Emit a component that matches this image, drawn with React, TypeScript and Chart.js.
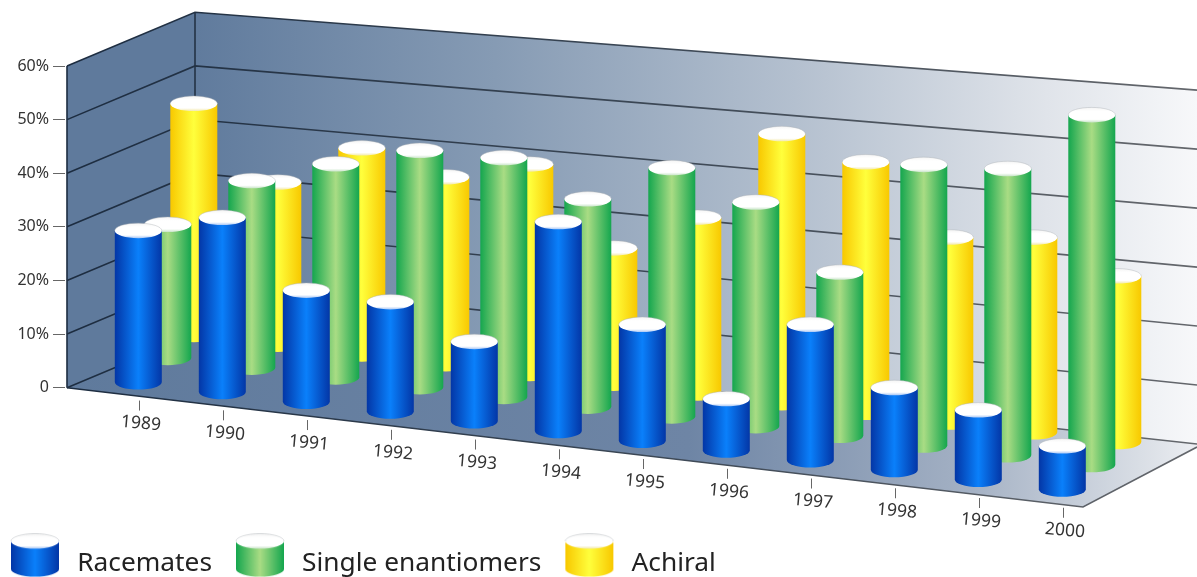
import React, { useEffect, useRef } from "react";
import { Chart, registerables } from "chart.js";

Chart.register(...registerables);

const years = ["1989","1990","1991","1992","1993","1994","1995","1996","1997","1998","1999","2000"];
const racemates = [28.5,32.5,20.6,20.1,14.5,37.7,20.8,9.2,23.9,14.4,12.1,7.5];
const singleEnantiomers = [25.0,34.7,39.3,43.2,43.3,37.3,44.3,39.6,28.7,48.9,49.5,60];
const achiral = [43.2,30.1,37.9,34.1,37.9,24.3,31.3,47.5,43.9,32.2,33.6,28.4];

const FONT = '"Noto Sans", sans-serif';
const BAR_W = 47;
const CAP_RY = 7.5;
const rows = [
  { dx: 29.3, dy: -10, edge: "#0336a6", mid: "#0a80fb", tint: "#a8c6f4" },
  { dx: 58.8, dy: -34.4, edge: "#14a64e", mid: "#a9dc84", tint: "#c8e4c8" },
  { dx: 84.8, dy: -57.4, edge: "#f8c800", mid: "#ffff3c", tint: "#f2e8a8" },
];
const FLOOR_SLOPE = 0.116;
const BACK_X = 195, BACK_BASE_Y = 334, BACK_SLOPE = 0.1098;
const persp = (x: number) => 1 + (0.1 * (x - BACK_X)) / 1002;

function cylinder(ctx: CanvasRenderingContext2D, cx: number, top: number, base: number, row: typeof rows[number], w = BAR_W, ry = CAP_RY) {
  const l = cx - w / 2, r = cx + w / 2;
  const g = ctx.createLinearGradient(l, 0, r, 0);
  g.addColorStop(0, row.edge);
  g.addColorStop(0.5, row.mid);
  g.addColorStop(1, row.edge);
  ctx.beginPath();
  ctx.moveTo(l, top);
  ctx.lineTo(l, base);
  ctx.ellipse(cx, base, w / 2, ry, 0, Math.PI, 0, true);
  ctx.lineTo(r, top);
  ctx.closePath();
  ctx.fillStyle = g;
  ctx.fill();
  ctx.beginPath();
  ctx.ellipse(cx, top, w / 2, ry, 0, 0, Math.PI * 2);
  const c = ctx.createLinearGradient(0, top - ry, 0, top + ry);
  c.addColorStop(0, "#f4f4f4");
  c.addColorStop(0.25, "#ffffff");
  c.addColorStop(0.8, "#ffffff");
  c.addColorStop(1, row.tint);
  ctx.fillStyle = c;
  ctx.fill();
  ctx.lineWidth = 0.6;
  ctx.strokeStyle = "rgba(170,175,180,0.7)";
  ctx.beginPath();
  ctx.ellipse(cx, top, w / 2, ry, 0, Math.PI, 0);
  ctx.stroke();
}

function swatch(row: typeof rows[number]) {
  const c = document.createElement("canvas");
  c.width = 50;
  c.height = 60;
  const ctx = c.getContext("2d")!;
  cylinder(ctx, 25, 8, 36, row, 48, 7.5);
  return c;
}

const scene = {
  id: "scene3d",
  afterLayout(chart: any) {
    const lg = chart.legend;
    lg.left = -13;
    lg.right = 1197;
    lg.top = 531;
    lg.bottom = 577;
  },
  beforeDatasetsDraw(chart: any) {
    const { ctx, chartArea, scales } = chart;
    const { x: xs, y: ys } = scales;
    const left = chartArea.left, y0 = ys.getPixelForValue(0);
    const W = chart.width;
    const backY = (x: number, v: number) =>
      BACK_BASE_Y + (x - BACK_X) * BACK_SLOPE - (y0 - ys.getPixelForValue(v)) * persp(x);

    ctx.save();
    // back wall
    const bw = ctx.createLinearGradient(BACK_X, 0, W, 0);
    bw.addColorStop(0, "#607b9d");
    bw.addColorStop(0.3, "#869bb4");
    bw.addColorStop(0.6, "#b4c0cf");
    bw.addColorStop(0.85, "#e0e4ea");
    bw.addColorStop(1, "#f7f8fa");
    ctx.beginPath();
    ctx.moveTo(BACK_X, backY(BACK_X, 60));
    ctx.lineTo(W, backY(W, 60));
    ctx.lineTo(W, backY(W, 0));
    ctx.lineTo(BACK_X, backY(BACK_X, 0));
    ctx.closePath();
    ctx.fillStyle = bw;
    ctx.fill();
    // left wall
    ctx.beginPath();
    ctx.moveTo(left, ys.getPixelForValue(60));
    ctx.lineTo(BACK_X, backY(BACK_X, 60));
    ctx.lineTo(BACK_X, backY(BACK_X, 0));
    ctx.lineTo(left, y0);
    ctx.closePath();
    ctx.fillStyle = "#5f7a9c";
    ctx.fill();
    // floor
    const frontR = 1083, frontRY = 507;
    const fl = ctx.createLinearGradient(left, 0, W, 0);
    fl.addColorStop(0, "#5f7a9c");
    fl.addColorStop(0.55, "#6e85a5");
    fl.addColorStop(0.8, "#a4b1c4");
    fl.addColorStop(0.95, "#d9dee5");
    fl.addColorStop(1, "#eceef2");
    ctx.beginPath();
    ctx.moveTo(left, y0);
    ctx.lineTo(frontR, frontRY);
    ctx.lineTo(W, 447);
    ctx.lineTo(W, backY(W, 0));
    ctx.lineTo(BACK_X, backY(BACK_X, 0));
    ctx.closePath();
    ctx.fillStyle = fl;
    ctx.fill();
    // grid
    const line = ctx.createLinearGradient(left, 0, W, 0);
    line.addColorStop(0, "#1c2c40");
    line.addColorStop(0.5, "#3a4654");
    line.addColorStop(1, "#64676c");
    ctx.strokeStyle = line;
    ctx.lineWidth = 1.6;
    ys.ticks.forEach((t: any) => {
      const yv = ys.getPixelForValue(t.value);
      ctx.beginPath();
      ctx.moveTo(left, yv);
      ctx.lineTo(BACK_X, backY(BACK_X, t.value));
      ctx.lineTo(W, backY(W, t.value));
      ctx.stroke();
    });
    ctx.beginPath();
    ctx.moveTo(BACK_X, backY(BACK_X, 60));
    ctx.lineTo(BACK_X, backY(BACK_X, 0));
    ctx.moveTo(left, ys.getPixelForValue(60));
    ctx.lineTo(left, y0);
    ctx.moveTo(left, y0);
    ctx.lineTo(frontR, frontRY);
    ctx.lineTo(W, 447);
    ctx.stroke();

    // category ticks + labels
    xs.ticks.forEach((_: any, i: number) => {
      const cx = xs.getPixelForValue(i);
      const tx = cx + 30.5;
      const ty = y0 + (cx - left) * FLOOR_SLOPE + 8;
      ctx.strokeStyle = "#666";
      ctx.lineWidth = 1;
      ctx.beginPath();
      ctx.moveTo(tx, ty);
      ctx.lineTo(tx, ty + 10);
      ctx.stroke();
      ctx.save();
      ctx.translate(tx + 1.5, ty + 23);
      ctx.rotate((5 * Math.PI) / 180);
      ctx.fillStyle = "#333";
      ctx.font = `17.5px ${FONT}`;
      ctx.textAlign = "center";
      ctx.textBaseline = "middle";
      ctx.fillText(xs.getLabelForValue(i), 0, 0);
      ctx.restore();
    });

    // cylinders, back row first
    for (let d = chart.data.datasets.length - 1; d >= 0; d--) {
      const row = rows[d];
      chart.getDatasetMeta(d).data.forEach((el: any) => {
        const cx = el.x + row.dx;
        const baseY = el.base + (el.x - left) * FLOOR_SLOPE + row.dy;
        const top = baseY - (el.base - el.y) * persp(cx);
        cylinder(ctx, cx, top, baseY, row);
      });
    }
    ctx.restore();
    return false;
  },
};

export default function App() {
  const ref = useRef<HTMLCanvasElement>(null);
  useEffect(() => {
    document.body.style.margin = "0";
    const sw = rows.map(swatch);
    const chart = new Chart(ref.current!, {
      type: "bar",
      data: {
        labels: years,
        datasets: [
          { label: "Racemates", data: racemates, backgroundColor: "#0a6be0" },
          { label: "Single enantiomers", data: singleEnantiomers, backgroundColor: "#4cb864" },
          { label: "Achiral", data: achiral, backgroundColor: "#ffe01a" },
        ],
      },
      plugins: [scene],
      options: {
        responsive: false,
        animation: false,
        devicePixelRatio: 1,
        layout: { padding: { top: 66, right: 122, left: 0, bottom: 0 } },
        datasets: { bar: { grouped: false, barThickness: BAR_W } },
        plugins: {
          tooltip: { enabled: false },
          legend: {
            position: "bottom",
            align: "start",
            labels: {
              color: "#222",
              font: { family: FONT, size: 26.3 },
              usePointStyle: true,
              pointStyleWidth: 58,
              padding: 19,
              generateLabels: (c: any) =>
                Chart.defaults.plugins.legend.labels.generateLabels(c).map((l: any, i: number) => ({
                  ...l,
                  pointStyle: sw[i],
                })),
            },
          },
        },
        scales: {
          x: {
            grid: { display: false },
            border: { display: false },
            ticks: { display: false },
            afterFit: (s: any) => { s.height = 134; },
          },
          y: {
            min: 0,
            max: 60,
            afterFit: (s: any) => { s.width = 67; },
            border: { display: false },
            grid: { drawOnChartArea: false, tickLength: 14, tickBorderDash: [12, 4], color: "#666", lineWidth: 1 },
            ticks: {
              stepSize: 10,
              padding: 4,
              color: "#333",
              font: { family: FONT, size: 16 },
              callback: (v: any) => (v === 0 ? "0" : `${v}%`),
            },
          },
        },
      },
    } as any);
    return () => chart.destroy();
  }, []);
  return (
    <div style={{ position: "absolute", left: 0, top: 0, width: 1197, height: 577, background: "#fff" }}>
      <canvas ref={ref} width={1197} height={577} style={{ display: "block" }} />
    </div>
  );
}
